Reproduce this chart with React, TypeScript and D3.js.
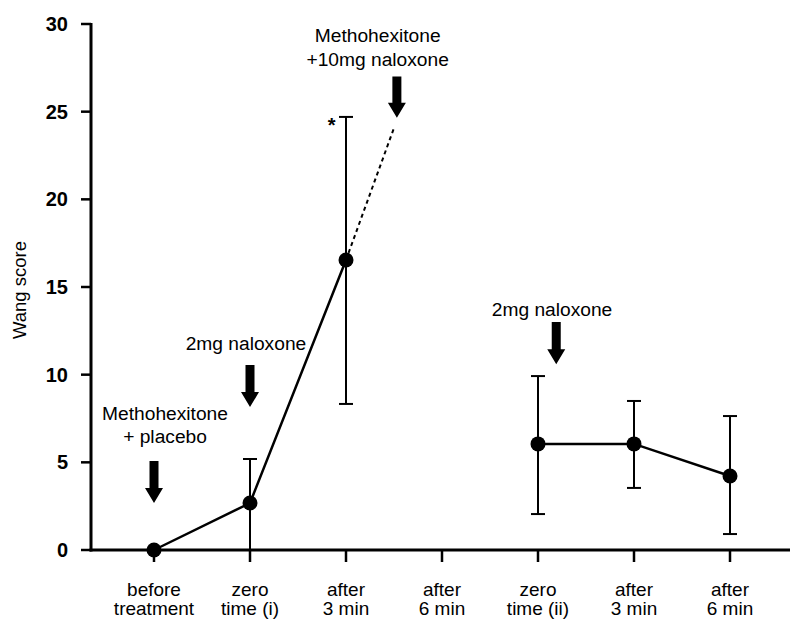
import React from "react";
import * as d3 from "d3";

const categories: string[][] = [
  ["before", "treatment"],
  ["zero", "time (i)"],
  ["after", "3 min"],
  ["after", "6 min"],
  ["zero", "time (ii)"],
  ["after", "3 min"],
  ["after", "6 min"],
];

const yTicks = [0, 5, 10, 15, 20, 25, 30];

// first series: index, mean, lower, upper (null = no error bar)
const series1 = [
  { i: 0, v: 0, lo: null as number | null, hi: null as number | null },
  { i: 1, v: 2.68, lo: 0, hi: 5.19 },
  { i: 2, v: 16.54, lo: 8.33, hi: 24.7 },
];
// dashed extension
const dashedEnd = { i: 2.5, v: 24.07 };

const series2 = [
  { i: 4, v: 6.05, lo: 2.05, hi: 9.92 },
  { i: 5, v: 6.05, lo: 3.54, hi: 8.5 },
  { i: 6, v: 4.22, lo: 0.91, hi: 7.64 },
];

const arrows = [
  { i: 0, top: 5.08, tip: 2.68 },
  { i: 1, top: 10.55, tip: 8.15 },
  { i: 2.53, top: 27.0, tip: 24.65 },
  { i: 4.19, top: 13.0, tip: 10.6 },
];

const annotations = [
  { i: 0.115, v: 7.78, text: "Methohexitone" },
  { i: 0.115, v: 6.47, text: "+ placebo" },
  { i: 0.958, v: 11.8, text: "2mg naloxone" },
  { i: 2.33, v: 29.37, text: "Methohexitone" },
  { i: 2.33, v: 28.0, text: "+10mg naloxone" },
  { i: 4.146, v: 13.75, text: "2mg naloxone" },
];

const star = { i: 1.85, v: 24.5 };

const FONT = "'Liberation Sans', Arial, Helvetica, sans-serif";

export default function App() {
  const x = d3.scaleLinear().domain([0, 6]).range([154, 730]);
  const y = d3.scaleLinear().domain([0, 30]).range([550, 24]);
  const axisX0 = 91;
  const axisXEnd = 790;

  const line = d3
    .line<{ i: number; v: number }>()
    .x((d) => x(d.i))
    .y((d) => y(d.v));

  const arrowPath = (a: { i: number; top: number; tip: number }) => {
    const cx = x(a.i);
    const t = y(a.top);
    const tip = y(a.tip);
    const headLen = 15;
    const sw = 4.5;
    const hw = 9;
    const hb = tip - headLen;
    return `M${cx - sw},${t} L${cx + sw},${t} L${cx + sw},${hb} L${cx + hw},${hb} L${cx},${tip} L${cx - hw},${hb} L${cx - sw},${hb} Z`;
  };

  const errBars = [...series1, ...series2].filter((d) => d.lo !== null);
  const cap = 7;

  return (
    <svg
      width={791}
      height={621}
      style={{ position: "absolute", left: 0, top: 0, background: "#fff" }}
      fontFamily={FONT}
    >
      <rect width={791} height={621} fill="#fff" />
      {/* y axis */}
      <line x1={axisX0} x2={axisX0} y1={y(30) - 1} y2={y(0) + 1.5} stroke="#000" strokeWidth={3} />
      {yTicks.map((t) => (
        <g key={t}>
          <line x1={axisX0 - 10} x2={axisX0} y1={y(t)} y2={y(t)} stroke="#000" strokeWidth={2.5} />
          <text
            x={68}
            y={y(t)}
            dy="0.35em"
            textAnchor="end"
            fontSize={20}
            fontWeight="bold"
            fill="#000"
          >
            {t}
          </text>
        </g>
      ))}
      <text
        transform={`translate(20,${(y(0) + y(30)) / 2 + 3}) rotate(-90)`}
        textAnchor="middle"
        dy="0.35em"
        fontSize={18.5}
        fill="#000"
      >
        Wang score
      </text>

      {/* x axis */}
      <line x1={axisX0 - 1.5} x2={axisXEnd} y1={y(0)} y2={y(0)} stroke="#000" strokeWidth={3} />
      {categories.map((c, i) => (
        <g key={i}>
          <line x1={x(i)} x2={x(i)} y1={y(0)} y2={y(0) + 12} stroke="#000" strokeWidth={2.5} />
          <text x={x(i)} y={589} dy="0.35em" textAnchor="middle" fontSize={19} fill="#000">
            {c[0]}
          </text>
          <text x={x(i)} y={608} dy="0.35em" textAnchor="middle" fontSize={19} fill="#000">
            {c[1]}
          </text>
        </g>
      ))}

      {/* error bars */}
      {errBars.map((d, k) => (
        <g key={k} stroke="#000" strokeWidth={2}>
          <line x1={x(d.i)} x2={x(d.i)} y1={y(d.lo as number)} y2={y(d.hi as number)} />
          <line x1={x(d.i) - cap} x2={x(d.i) + cap} y1={y(d.hi as number)} y2={y(d.hi as number)} />
          <line x1={x(d.i) - cap} x2={x(d.i) + cap} y1={y(d.lo as number)} y2={y(d.lo as number)} />
        </g>
      ))}

      {/* lines */}
      <path d={line(series1) || ""} fill="none" stroke="#000" strokeWidth={2.5} />
      <path
        d={line([series1[2], dashedEnd]) || ""}
        fill="none"
        stroke="#000"
        strokeWidth={2}
        strokeDasharray="4,3.5"
      />
      <path d={line(series2) || ""} fill="none" stroke="#000" strokeWidth={2.5} />

      {/* points */}
      {[...series1, ...series2].map((d, k) => (
        <circle key={k} cx={x(d.i)} cy={y(d.v)} r={7.5} fill="#000" />
      ))}

      {/* arrows */}
      {arrows.map((a, k) => (
        <path key={k} d={arrowPath(a)} fill="#000" />
      ))}

      {/* annotations */}
      {annotations.map((a, k) => (
        <text
          key={k}
          x={x(a.i)}
          y={y(a.v)}
          dy="0.35em"
          textAnchor="middle"
          fontSize={19.2}
          fill="#000"
        >
          {a.text}
        </text>
      ))}
      <text x={x(star.i)} y={y(star.v) + 12} textAnchor="middle" fontSize={20} fontWeight="bold" fill="#000">
        *
      </text>
    </svg>
  );
}
